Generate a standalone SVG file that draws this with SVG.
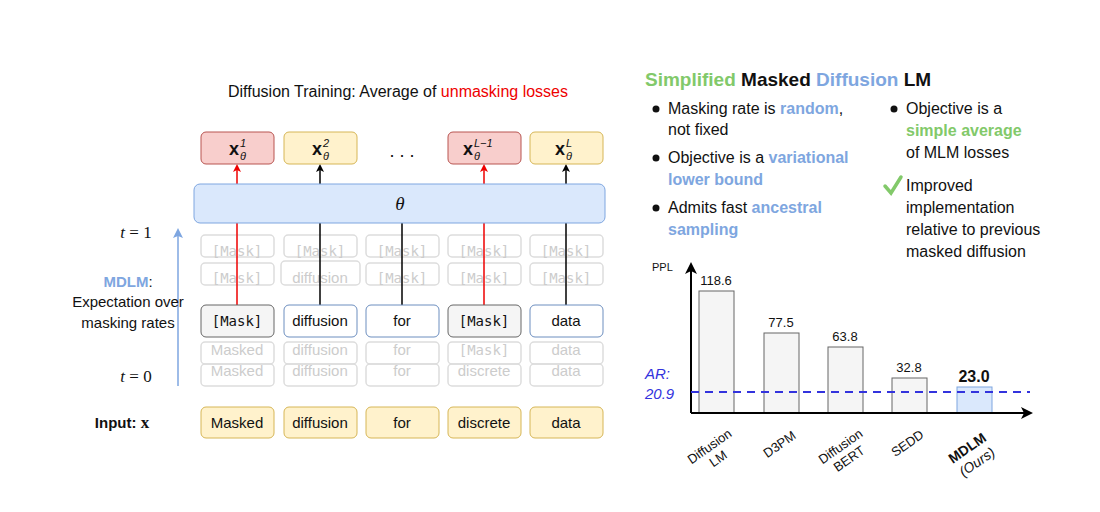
<svg xmlns="http://www.w3.org/2000/svg" width="1100" height="512" viewBox="0 0 1100 512">
<style>
text{font-family:"Liberation Sans",Arial,sans-serif;fill:#111}
.tok{font-size:15px;text-anchor:middle}
.mono{font-family:"DejaVu Sans Mono","Liberation Mono",monospace;font-size:14px;text-anchor:middle}
.g{fill:#ccc}
.gb{fill:none;stroke:#ddd;stroke-width:1.5}
.b{font-size:16px}
.blue{fill:#7ea6e0;font-weight:bold}
.green{fill:#82c96a;font-weight:bold}
.math{font-family:"Liberation Serif","DejaVu Serif",serif}
</style>
<defs>
<marker id="ak" markerWidth="8" markerHeight="8" refX="6" refY="4" orient="auto" markerUnits="userSpaceOnUse"><path d="M0,0 L8,4 L0,8 L2,4z" fill="#000"/></marker>
<marker id="ar" markerWidth="8" markerHeight="8" refX="6" refY="4" orient="auto" markerUnits="userSpaceOnUse"><path d="M0,0 L8,4 L0,8 L2,4z" fill="#e00"/></marker>
<marker id="ab" markerWidth="10" markerHeight="10" refX="8" refY="5" orient="auto" markerUnits="userSpaceOnUse"><path d="M0,0 L10,5 L0,10 L2,5z" fill="#7ea6e0"/></marker>
<marker id="ax" markerWidth="12" markerHeight="12" refX="10" refY="6" orient="auto" markerUnits="userSpaceOnUse"><path d="M0,0 L12,6 L0,12 L3,6z" fill="#000"/></marker>
</defs>
<rect width="1100" height="512" fill="#fff"/>
<text x="398" y="97" font-size="16" text-anchor="middle">Diffusion Training: Average of <tspan fill="#e00">unmasking losses</tspan></text>

<g id="ghosts">
<g class="gb">
<rect x="201" y="235" width="73" height="22" rx="4"/><rect x="284" y="235" width="73" height="22" rx="4"/><rect x="366" y="235" width="73" height="22" rx="4"/><rect x="448" y="235" width="73" height="22" rx="4"/><rect x="530" y="235" width="73" height="22" rx="4"/>
<rect x="201" y="263" width="73" height="22" rx="4"/><rect x="281" y="261" width="79" height="24" rx="4"/><rect x="366" y="263" width="73" height="22" rx="4"/><rect x="448" y="263" width="73" height="22" rx="4"/><rect x="530" y="263" width="73" height="22" rx="4"/>
<rect x="201" y="342" width="73" height="22" rx="4"/><rect x="284" y="342" width="73" height="22" rx="4"/><rect x="366" y="342" width="73" height="22" rx="4"/><rect x="448" y="342" width="73" height="22" rx="4"/><rect x="530" y="342" width="73" height="22" rx="4"/>
<rect x="201" y="364" width="73" height="22" rx="4"/><rect x="284" y="364" width="73" height="22" rx="4"/><rect x="366" y="364" width="73" height="22" rx="4"/><rect x="448" y="364" width="73" height="22" rx="4"/><rect x="530" y="364" width="73" height="22" rx="4"/>
</g>
<text class="mono g" x="237" y="256">[Mask]</text><text class="mono g" x="320" y="256">[Mask]</text><text class="mono g" x="402" y="256">[Mask]</text><text class="mono g" x="484" y="256">[Mask]</text><text class="mono g" x="566" y="256">[Mask]</text>
<text class="mono g" x="237" y="283">[Mask]</text><text class="tok g" x="320" y="283" fill="#bbb">diffusion</text><text class="mono g" x="402" y="283">[Mask]</text><text class="mono g" x="484" y="283">[Mask]</text><text class="mono g" x="566" y="283">[Mask]</text>
<text class="tok g" x="237" y="355">Masked</text><text class="tok g" x="320" y="355">diffusion</text><text class="tok g" x="402" y="355">for</text><text class="mono g" x="484" y="355">[Mask]</text><text class="tok g" x="566" y="355">data</text>
<text class="tok g" x="237" y="376" fill="#ddd">Masked</text><text class="tok g" x="320" y="376">diffusion</text><text class="tok g" x="402" y="376">for</text><text class="tok g" x="484" y="376">discrete</text><text class="tok g" x="566" y="376">data</text>
</g>

<g id="connectors" stroke-width="1.5">
<line x1="237" y1="305" x2="237" y2="166" stroke="#e00" marker-end="url(#ar)"/>
<line x1="320" y1="305" x2="320" y2="166" stroke="#000" marker-end="url(#ak)"/>
<line x1="402" y1="305" x2="402" y2="223" stroke="#000"/>
<line x1="484" y1="305" x2="484" y2="166" stroke="#e00" marker-end="url(#ar)"/>
<line x1="566" y1="305" x2="566" y2="166" stroke="#000" marker-end="url(#ak)"/>
<line x1="178" y1="386" x2="178" y2="230" stroke="#7ea6e0" marker-end="url(#ab)"/>
</g>

<g id="theta"><rect x="194" y="184" width="411" height="39" rx="6" fill="#dae8fc" stroke="#7ea6e0"/><text x="400" y="210" font-size="19" text-anchor="middle" class="math" font-style="italic">θ</text></g>

<g id="outputs" class="math">
<g id="o1"><rect x="201" y="132" width="73" height="32" rx="5" fill="#f8cecc" stroke="#b85450"/><text x="229" y="155" font-size="18" font-weight="bold">x</text><text x="240" y="147" font-size="11" font-style="italic">1</text><text x="240" y="160" font-size="11" font-style="italic">θ</text></g>
<g id="o2"><rect x="284" y="132" width="73" height="32" rx="5" fill="#fff2cc" stroke="#d6b656"/><text x="312" y="155" font-size="18" font-weight="bold">x</text><text x="323" y="147" font-size="11" font-style="italic">2</text><text x="323" y="160" font-size="11" font-style="italic">θ</text></g>
<text x="402" y="157" font-size="18" text-anchor="middle">. . .</text>
<g id="o3"><rect x="448" y="132" width="73" height="32" rx="5" fill="#f8cecc" stroke="#b85450"/><text x="463" y="155" font-size="18" font-weight="bold">x</text><text x="474" y="147" font-size="11" font-style="italic">L−1</text><text x="474" y="160" font-size="11" font-style="italic">θ</text></g>
<g id="o4"><rect x="530" y="132" width="73" height="32" rx="5" fill="#fff2cc" stroke="#d6b656"/><text x="555" y="155" font-size="18" font-weight="bold">x</text><text x="566" y="147" font-size="11" font-style="italic">L</text><text x="566" y="160" font-size="11" font-style="italic">θ</text></g>
</g>

<g id="mainrow">
<rect x="201" y="305" width="73" height="32" rx="5" fill="#f5f5f5" stroke="#666"/><text class="mono" x="237" y="326" font-size="15">[Mask]</text>
<rect x="284" y="305" width="73" height="32" rx="5" fill="#fff" stroke="#6c8ebf"/><text class="tok" x="320" y="326">diffusion</text>
<rect x="366" y="305" width="73" height="32" rx="5" fill="#fff" stroke="#6c8ebf"/><text class="tok" x="402" y="326">for</text>
<rect x="448" y="305" width="73" height="32" rx="5" fill="#f5f5f5" stroke="#666"/><text class="mono" x="484" y="326" font-size="15">[Mask]</text>
<rect x="530" y="305" width="73" height="32" rx="5" fill="#fff" stroke="#6c8ebf"/><text class="tok" x="566" y="326">data</text>
</g>

<g id="inputs">
<rect x="201" y="407" width="73" height="31" rx="5" fill="#fff2cc" stroke="#d6b656"/><text class="tok" x="237" y="428">Masked</text>
<rect x="284" y="407" width="73" height="31" rx="5" fill="#fff2cc" stroke="#d6b656"/><text class="tok" x="320" y="428">diffusion</text>
<rect x="366" y="407" width="73" height="31" rx="5" fill="#fff2cc" stroke="#d6b656"/><text class="tok" x="402" y="428">for</text>
<rect x="448" y="407" width="73" height="31" rx="5" fill="#fff2cc" stroke="#d6b656"/><text class="tok" x="484" y="428">discrete</text>
<rect x="530" y="407" width="73" height="31" rx="5" fill="#fff2cc" stroke="#d6b656"/><text class="tok" x="566" y="428">data</text>
</g>

<g id="leftlabels">
<text x="136" y="238" font-size="17" class="math" text-anchor="middle"><tspan font-style="italic">t</tspan> = 1</text>
<text x="136" y="382" font-size="17" class="math" text-anchor="middle"><tspan font-style="italic">t</tspan> = 0</text>
<text x="128" y="287" font-size="15" text-anchor="middle"><tspan class="blue">MDLM</tspan>:</text>
<text x="128" y="307" font-size="15" text-anchor="middle">Expectation over</text>
<text x="128" y="328" font-size="15" text-anchor="middle">masking rates</text>
<text x="122" y="428" font-size="15" text-anchor="middle" font-weight="bold">Input: <tspan class="math" font-size="17">x</tspan></text>
</g>

<g id="summary">
<text x="645" y="86" font-size="19" font-weight="bold"><tspan class="green">Simplified</tspan> Masked <tspan class="blue">Diffusion</tspan> LM</text>
<g class="b">
<circle cx="656" cy="109" r="3.5" fill="#111"/><text x="668" y="114">Masking rate is <tspan class="blue">random</tspan>,</text><text x="668" y="135">not fixed</text>
<circle cx="656" cy="158" r="3.5" fill="#111"/><text x="668" y="163">Objective is a <tspan class="blue">variational</tspan></text><text x="668" y="185" class="blue">lower bound</text>
<circle cx="656" cy="208" r="3.5" fill="#111"/><text x="668" y="213">Admits fast <tspan class="blue">ancestral</tspan></text><text x="668" y="235" class="blue">sampling</text>
<circle cx="894" cy="109" r="3.5" fill="#111"/><text x="906" y="114">Objective is a</text><text x="906" y="136" class="green">simple average</text><text x="906" y="158">of MLM losses</text>
<path d="M885,186 L891,193 L901,177" fill="none" stroke="#82c96a" stroke-width="3.5" stroke-linecap="round"/><text x="906" y="191">Improved</text><text x="906" y="213">implementation</text><text x="906" y="235">relative to previous</text><text x="906" y="257">masked diffusion</text>
</g>
</g>

<g id="chart">
<text x="652" y="271" font-size="11">PPL</text>
<g fill="#f5f5f5" stroke="#666">
<rect x="699" y="291" width="35" height="122"/><rect x="764" y="333" width="35" height="80"/><rect x="828" y="347" width="35" height="66"/><rect x="892" y="378" width="35" height="35"/>
<rect x="957" y="387" width="35" height="26" fill="#dae8fc" stroke="#7ea6e0"/>
</g>
<g font-size="13" text-anchor="middle"><text x="716" y="285">118.6</text><text x="781" y="327">77.5</text><text x="845" y="341">63.8</text><text x="909" y="372">32.8</text><text x="974" y="382" font-size="16" font-weight="bold">23.0</text></g>
<line x1="691" y1="413" x2="691" y2="264" stroke="#000" stroke-width="2" marker-end="url(#ax)"/>
<line x1="691" y1="413" x2="1031" y2="413" stroke="#000" stroke-width="2" marker-end="url(#ax)"/>
<line x1="691" y1="392" x2="1030" y2="392" stroke="#3333dd" stroke-width="2" stroke-dasharray="8,6"/>
<text x="645" y="379" font-size="15" font-style="italic" fill="#3333dd" style="fill:#3333dd">AR:</text>
<text x="645" y="399" font-size="15" font-style="italic" style="fill:#3333dd">20.9</text>
<g font-size="13" text-anchor="middle">
<text transform="translate(712,450) rotate(-35)"><tspan x="0" y="0">Diffusion</tspan><tspan x="0" y="15">LM</tspan></text>
<text transform="translate(782,448) rotate(-35)">D3PM</text>
<text transform="translate(843,450) rotate(-35)"><tspan x="0" y="0">Diffusion</tspan><tspan x="0" y="15">BERT</tspan></text>
<text transform="translate(910,447) rotate(-35)">SEDD</text>
<text transform="translate(970,452) rotate(-35)" font-size="14"><tspan x="0" y="0" font-weight="bold">MDLM</tspan><tspan x="0" y="17" font-style="italic">(Ours)</tspan></text>
</g>
</g>
</svg>
